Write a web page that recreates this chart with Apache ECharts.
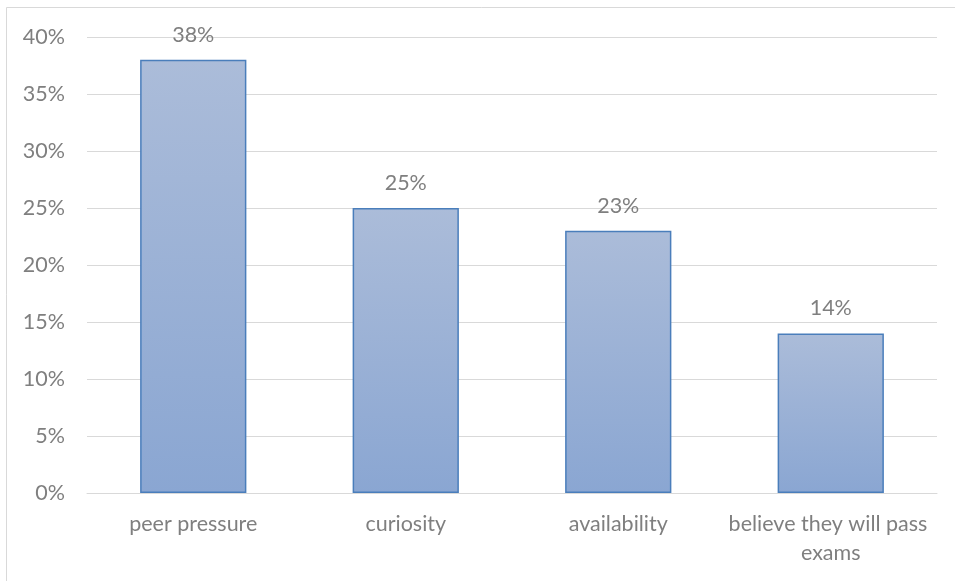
<!DOCTYPE html>
<html>
<head>
<meta charset="utf-8">
<script src="https://cdn.jsdelivr.net/npm/echarts@6/dist/echarts.min.js"></script>
<style>
  html, body { margin: 0; padding: 0; background: #fff; }
  #chart { width: 955px; height: 581px; }
</style>
</head>
<body>
<div id="chart"></div>
<script>
// Reasons given, and share of respondents for each
const categories = ['peer pressure', 'curiosity', 'availability', 'believe they will pass exams'];
const shares = [38, 25, 23, 14];
const yTicks = { min: 0, max: 40, interval: 5 };

const textColor = '#7f7f7f';
const fontFamily = 'Lato, Open Sans, sans-serif';
const fontSize = 21.5;

const chart = echarts.init(document.getElementById('chart'), null, { renderer: 'canvas' });
chart.setOption({
  animation: false,
  backgroundColor: '#ffffff',
  graphic: [{
    type: 'rect',
    shape: { x: 6.5, y: 7.5, width: 970, height: 600 },
    style: { fill: 'none', stroke: '#d9d9d9', lineWidth: 1 },
    silent: true
  }],
  grid: { left: 87, right: 18, top: 37, bottom: 88, containLabel: false },
  xAxis: {
    type: 'category',
    data: categories,
    axisLine: { show: true, lineStyle: { color: '#d9d9d9', width: 1 } },
    axisTick: { show: false },
    axisLabel: {
      color: textColor,
      fontFamily: fontFamily,
      fontSize: fontSize,
      margin: 17,
      width: 212,
      overflow: 'break',
      lineHeight: 29,
      interval: 0
    }
  },
  yAxis: {
    type: 'value',
    min: yTicks.min,
    max: yTicks.max,
    interval: yTicks.interval,
    axisLine: { show: false },
    axisTick: { show: false },
    splitLine: { lineStyle: { color: '#d9d9d9', width: 1 } },
    axisLabel: {
      color: textColor,
      fontFamily: fontFamily,
      fontSize: fontSize,
      margin: 22,
      formatter: v => v + '%'
    }
  },
  series: [{
    type: 'bar',
    data: shares,
    barWidth: '50%',
    itemStyle: {
      color: new echarts.graphic.LinearGradient(0, 0, 0, 1, [
        { offset: 0, color: '#abbcd9' },
        { offset: 1, color: '#8aa6d2' }
      ]),
      borderColor: '#4a7ebb',
      borderWidth: 1.5
    },
    label: {
      show: true,
      position: 'top',
      distance: 14,
      color: textColor,
      fontFamily: fontFamily,
      fontSize: fontSize,
      formatter: p => p.value + '%'
    }
  }]
});
</script>
</body>
</html>
